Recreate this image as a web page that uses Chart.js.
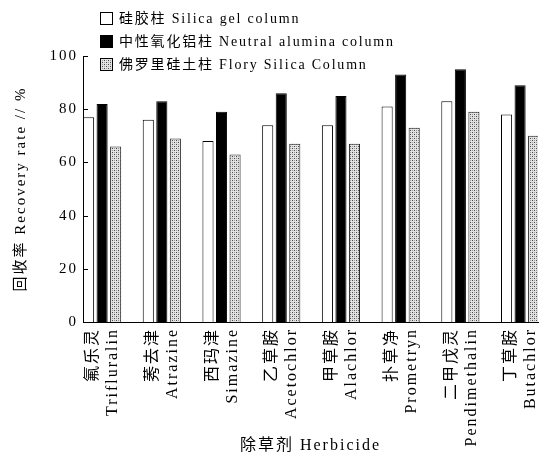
<!DOCTYPE html>
<html>
<head>
<meta charset="utf-8">
<script src="https://cdn.jsdelivr.net/npm/chart.js@4.4.1/dist/chart.umd.min.js"></script>
<style>
  html, body { margin: 0; padding: 0; background: #fff; }
  #wrap { width: 550px; height: 456px; }
</style>
</head>
<body>
<div id="wrap"><canvas id="c" width="550" height="456"></canvas></div>
<script>
// Herbicide names (Chinese / English)
const herbicidesZh = ['氟乐灵', '莠去津', '西玛津', '乙草胺', '甲草胺', '扑草净', '二甲戊灵', '丁草胺'];
const herbicidesEn = ['Trifluralin', 'Atrazine', 'Simazine', 'Acetochlor', 'Alachlor', 'Prometryn', 'Pendimethalin', 'Butachlor'];

// Recovery rate (%) for each clean-up column
const silicaGel      = [77, 76, 68, 74, 74, 81, 83, 78];
const neutralAlumina = [82, 83, 79, 86, 85, 93, 95, 89];
const florisil       = [66, 69, 63, 67, 67, 73, 79, 70];

const seriesNames = ['硅胶柱 Silica gel column', '中性氧化铝柱 Neutral alumina column', '佛罗里硅土柱 Flory Silica Column'];
const yTicks = [0, 20, 40, 60, 80, 100];

const FAMILY = "'Liberation Serif', 'Noto Sans CJK SC', serif";
const font = { family: FAMILY, size: 16, lineHeight: 1.25 };

// fine stipple fill for the Florisil bars
function stipple() {
  const t = document.createElement('canvas');
  t.width = 4; t.height = 4;
  const g = t.getContext('2d');
  g.fillStyle = '#e2e2e2'; g.fillRect(0, 0, 4, 4);
  g.fillStyle = '#4a4a4a';
  g.fillRect(0, 0, 1, 1); g.fillRect(2, 2, 1, 1);
  g.fillStyle = '#9a9a9a';
  g.fillRect(2, 0, 1, 1); g.fillRect(0, 2, 1, 1);
  return document.getElementById('c').getContext('2d').createPattern(t, 'repeat');
}

const toPoints = arr => arr.map((v, i) => ({ x: i, y: v }));

const spacing = {
  id: 'spacing',
  beforeUpdate(chart) { chart.ctx.letterSpacing = '2px'; },
  beforeDraw(chart) { chart.ctx.letterSpacing = '2px'; }
};

// tick marks pointing into the plot on the y axis
const innerTicks = {
  id: 'innerTicks',
  afterDraw(chart) {
    const { ctx, chartArea, scales: { y } } = chart;
    ctx.save();
    ctx.strokeStyle = '#000';
    ctx.lineWidth = 1;
    y.ticks.forEach(t => {
      const py = Math.round(y.getPixelForValue(t.value)) + 0.5;
      ctx.beginPath();
      ctx.moveTo(chartArea.left, py);
      ctx.lineTo(chartArea.left + 5, py);
      ctx.stroke();
    });
    ctx.restore();
  }
};

// stacked legend in the upper left
const stackedLegend = {
  id: 'stackedLegend',
  afterDraw(chart) {
    const ctx = chart.ctx;
    ctx.save();
    ctx.letterSpacing = '1.8px';
    ctx.font = `14px ${FAMILY}`;
    ctx.textBaseline = 'middle';
    chart.data.datasets.forEach((ds, i) => {
      const cy = 18 + i * 23;
      ctx.fillStyle = ds.backgroundColor;
      ctx.fillRect(100, cy - 6, 13, 13);
      ctx.strokeStyle = '#000';
      ctx.lineWidth = 1;
      ctx.strokeRect(100.5, cy - 5.5, 12, 12);
      ctx.fillStyle = '#000';
      ctx.fillText(ds.label, 119, cy + 1);
    });
    ctx.restore();
  }
};

Chart.defaults.color = '#000';
Chart.defaults.font.family = FAMILY;

new Chart(document.getElementById('c'), {
  type: 'bar',
  data: {
    datasets: [
      { label: seriesNames[0], data: toPoints(silicaGel), backgroundColor: '#ffffff', borderColor: '#000', borderWidth: 1 },
      { label: seriesNames[1], data: toPoints(neutralAlumina), backgroundColor: '#000000', borderColor: '#000', borderWidth: 1 },
      { label: seriesNames[2], data: toPoints(florisil), backgroundColor: stipple(), borderColor: '#222', borderWidth: 1 }
    ]
  },
  options: {
    responsive: false,
    animation: false,
    events: [],
    categoryPercentage: 0.68,
    barPercentage: 0.82,
    layout: { padding: { top: 56, right: 12, left: 0, bottom: 0 } },
    plugins: { legend: { display: false }, tooltip: { enabled: false } },
    scales: {
      x: {
        type: 'linear',
        min: -0.32,
        max: 7.30,
        offset: false,
        grid: { display: false, drawTicks: false },
        border: { display: true, color: '#000', width: 1 },
        ticks: {
          stepSize: 1,
          includeBounds: false,
          autoSkip: false,
          minRotation: 90,
          maxRotation: 90,
          padding: 6,
          labelOffset: -9,
          font: font,
          callback: v => (Number.isInteger(v) && v >= 0 && v < herbicidesZh.length) ? [herbicidesZh[v], herbicidesEn[v]] : ''
        },
        title: { display: true, text: '除草剂 Herbicide', font: font, padding: { top: 0, bottom: 0 } },
        afterFit(s) {
          s.height = 134;
          s.paddingLeft = 0;
          s.paddingRight = 0;
        }
      },
      y: {
        min: 0,
        max: 100,
        afterBuildTicks(s) { s.ticks = yTicks.map(v => ({ value: v })); },
        grid: { display: false, drawTicks: false },
        border: { display: true, color: '#000', width: 1 },
        ticks: { padding: 5, font: { family: FAMILY, size: 15 } },
        title: { display: true, text: '回收率 Recovery rate // %', font: { family: FAMILY, size: 15, lineHeight: 1.25 }, padding: { top: 12, bottom: 0 } },
        afterFit(s) {
          s.width = 83;
          s.paddingTop = 0;
          s.paddingBottom = 0;
        }
      }
    }
  },
  plugins: [spacing, innerTicks, stackedLegend]
});
</script>
</body>
</html>
